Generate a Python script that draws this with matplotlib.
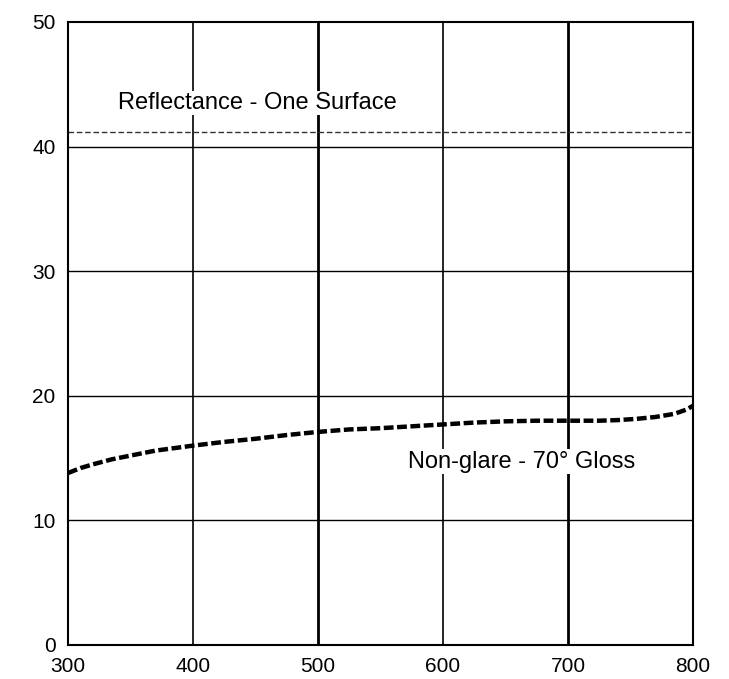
import numpy as np
import matplotlib
matplotlib.use("Agg")
from matplotlib import pyplot as plt

# wavelength (nm) vs reflectance (%)
wavelength = [300, 310, 320, 335, 350, 370, 400, 425, 450, 475, 500, 525, 550,
              575, 600, 625, 650, 675, 700, 725, 740, 755, 770, 785, 795, 800]
nonglare = [13.8, 14.2, 14.5, 14.9, 15.2, 15.6, 16.0, 16.3, 16.55, 16.85, 17.1,
            17.3, 17.4, 17.55, 17.7, 17.85, 17.95, 18.0, 18.0, 18.0, 18.05,
            18.15, 18.3, 18.55, 18.9, 19.2]
one_surface = 41.2

xticks = [300, 400, 500, 600, 700, 800]
yticks = [0, 10, 20, 30, 40, 50]

plt.rcParams['font.family'] = ['Liberation Sans', 'DejaVu Sans']

fig = plt.figure(figsize=(7.29, 6.79), dpi=100)
ax = fig.add_axes([0.0933, 0.0501, 0.8573, 0.9175])

# grid
for x in xticks[1:-1]:
    lw = 2.0 if x in (500, 700) else 1.2
    ax.axvline(x, color='black', lw=lw, zorder=1)
for y in yticks[1:-1]:
    ax.axhline(y, color='black', lw=1.0, zorder=1)

ax.axhline(one_surface, color='#333333', lw=1.0, ls=(0, (4, 2)), zorder=2)
ax.plot(wavelength, nonglare, color='black', lw=3.2, ls=(0, (2.2, 0.8)), zorder=3)

ax.text(340, 43.5, 'Reflectance - One Surface', fontsize=17, va='center',
        bbox=dict(facecolor='white', edgecolor='none', pad=1), zorder=4)
ax.text(572, 14.7, 'Non-glare - 70\u00b0 Gloss', fontsize=17, va='center',
        bbox=dict(facecolor='white', edgecolor='none', pad=1), zorder=4)

ax.set_xlim(300, 800)
ax.set_ylim(0, 50)
ax.set_xticks(xticks)
ax.set_yticks(yticks)
ax.tick_params(length=0, labelsize=15, pad=9)
for s in ax.spines.values():
    s.set_linewidth(1.5)

fig.savefig('out.png', dpi=100)
